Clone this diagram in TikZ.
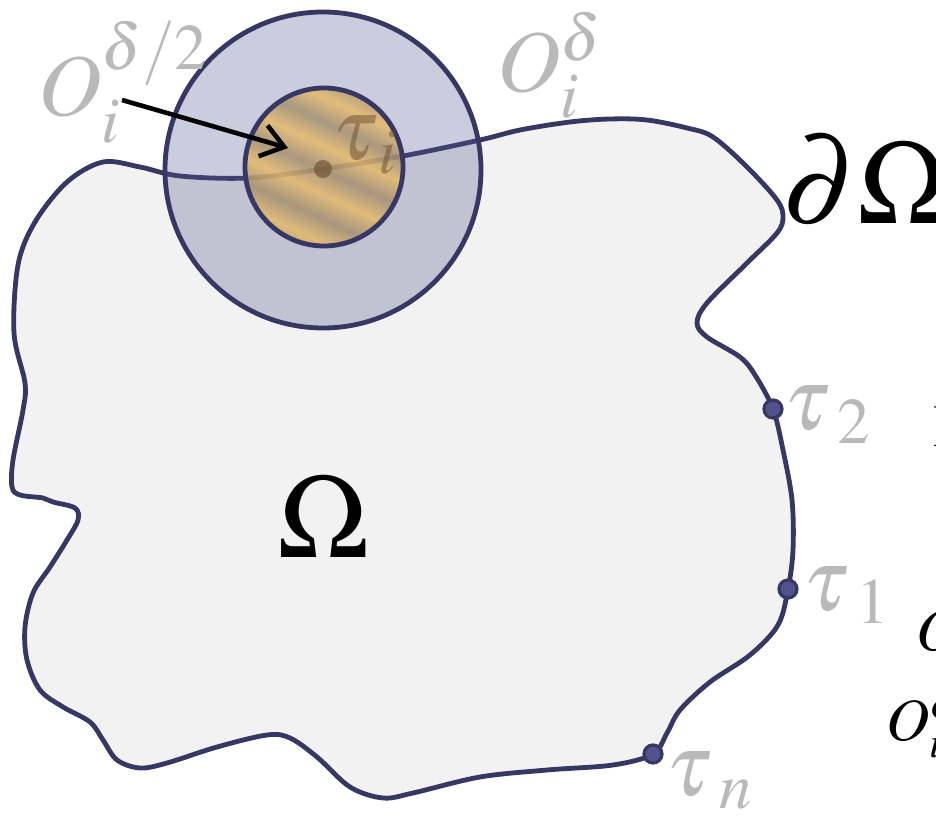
\documentclass[tikz,border=0pt]{standalone}
\usepackage{mathptmx}
\usetikzlibrary{arrows.meta}

\definecolor{edge}{RGB}{55,55,100}
\definecolor{domain}{RGB}{242,242,242}
\definecolor{ballfill}{RGB}{81,88,142}
\definecolor{labelgray}{RGB}{185,185,185}
\definecolor{goldA}{RGB}{230,186,106}
\definecolor{goldB}{RGB}{164,143,112}
\definecolor{dotfill}{RGB}{82,82,140}
\definecolor{coredot}{RGB}{115,85,55}

\pgfdeclarehorizontalshading{goldstripes}{100bp}{%
color(0bp)=(goldA); color(7bp)=(goldB); color(14bp)=(goldA); color(21bp)=(goldB);
color(28bp)=(goldA); color(35bp)=(goldB); color(42bp)=(goldA); color(49bp)=(goldB);
color(56bp)=(goldA); color(63bp)=(goldB); color(70bp)=(goldA); color(77bp)=(goldB);
color(84bp)=(goldA); color(91bp)=(goldB); color(98bp)=(goldA); color(100bp)=(goldA)}

\tikzset{
  boundary/.style={draw=edge, line width=2.4pt},
  ballnode/.style={circle, inner sep=0pt, draw=edge, line width=2.4pt},
  pointdot/.style={circle, draw=edge, fill=dotfill, line width=1.6pt, minimum size=9pt, inner sep=0pt},
  greylabel/.style={text=labelgray, inner sep=0pt, anchor=base west, font=\fontsize{44}{48}\selectfont},
  biglabel/.style={inner sep=0pt, font=\fontsize{60}{64}\selectfont},
  cutlabel/.style={inner sep=0pt, anchor=base west, font=\fontsize{30}{34}\selectfont},
}

\begin{document}
\begin{tikzpicture}[x=0.5pt, y=-0.5pt]
\useasboundingbox (0,0) rectangle (936,817);
\clip (0,0) rectangle (936,817);

% the domain and its boundary
\draw[boundary, fill=domain] plot[smooth cycle, tension=0.55] coordinates {
  (14,333) (18,265) (35,222) (67,182) (103,162) (140,167) (180,176) (248,178)
  (323,169) (403,156) (480,140) (520,130) (570,122) (610,119) (647,120) (687,128)
  (713,137) (747,167) (777,200) (783,217) (777,233) (747,263) (707,303) (697,323)
  (707,337) (740,357) (755,375) (773,409) (783,450) (792,500) (793,550) (788,589)
  (778,625) (750,655) (710,682) (680,710) (667,733) (653,754) (613,765) (547,770)
  (480,777) (413,793) (383,798) (350,787) (317,757) (290,738) (267,735) (217,747)
  (167,763) (140,768) (117,760) (103,740) (90,722) (63,707) (40,690) (27,660)
  (25,627) (33,593) (50,567) (67,540) (78,520) (75,508) (53,502) (43,498)
  (20,495) (12,487) (13,460) (23,410) (25,383)};

% neighbourhoods of tau_i
\node[ballnode, minimum size=158pt, fill=ballfill, fill opacity=0.3] (outer) at (323,170) {};
\node[ballnode, minimum size=79pt, shading=goldstripes, shading angle=65, fill opacity=0.85] (inner) at (324,167) {};
\node[circle, inner sep=0pt, minimum size=9pt, fill=coredot, fill opacity=0.7] (ti) at (323,169) {};

% points on the boundary
\node[pointdot] (t2) at (773,409) {};
\node[pointdot] (t1) at (788,589) {};
\node[pointdot] (tn) at (653,754) {};

% labels
\node[greylabel] (lab-half) at (38,116) {$O_i^{\delta/2}$};
\node[greylabel] (lab-full) at (497,92) {$O_i^{\delta}$};
\node[greylabel, text=coredot, text opacity=0.55] (lab-ti) at (332,160) {$\tau_{\,i}$};
\node[greylabel] (lab-t2) at (784,430) {$\tau_{\;2}$};
\node[greylabel] (lab-t1) at (803,610) {$\tau_{\;1}$};
\node[greylabel] (lab-tn) at (666,795) {$\tau_{\;n}$};
\node[biglabel] (omega) at (324,517) {$\Omega$};
\node[biglabel] (bdry) at (866,180) {$\partial\Omega$};

% text cut off at the right edge
\node[cutlabel] (cut-a) at (933,447) {$\mathrm{I}$};
\node[cutlabel] (cut-b) at (916,650) {$O$};
\node[cutlabel] (cut-c) at (886,740) {$O_i^{\delta}$};

% arrow to the small ball
\coordinate (arrow-start) at (122,100);
\coordinate (arrow-end) at (288,148);
\draw[line width=2.3pt, -{Straight Barb[length=11pt, width=16pt]}] (arrow-start) -- (arrow-end);
\end{tikzpicture}
\end{document}
